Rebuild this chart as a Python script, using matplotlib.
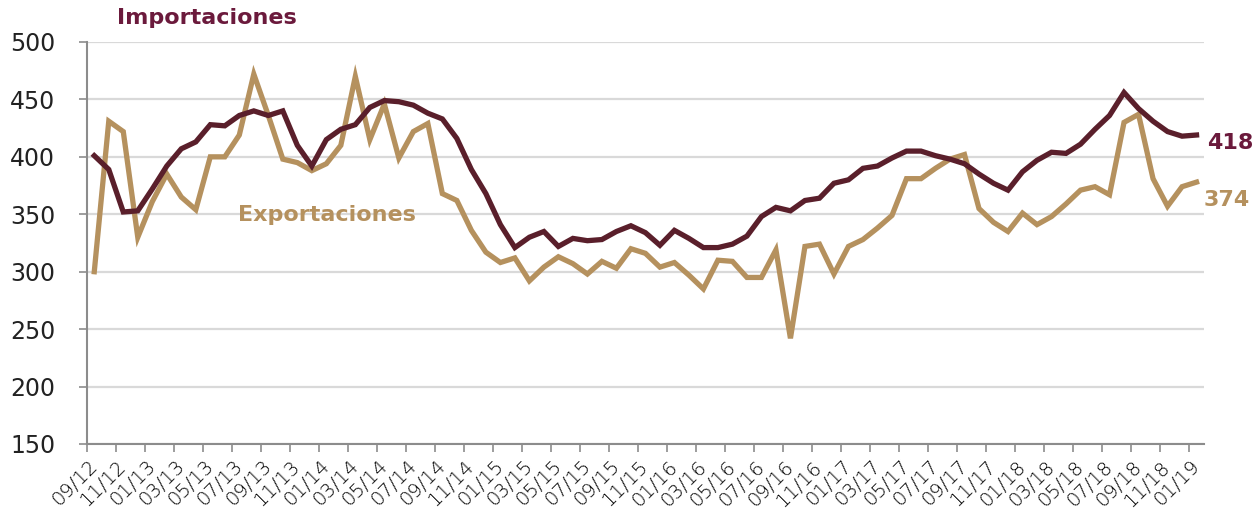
import numpy as np
import pandas as pd
import matplotlib
matplotlib.use("Agg")
import matplotlib.pyplot as plt

# meses sep-2012 .. ene-2019
fechas = pd.date_range("2012-09-01", "2019-01-01", freq="MS")
etiquetas = [f.strftime("%m/%y") for f in fechas]

importaciones = [401, 389, 352, 353, 372, 392, 407, 413, 428, 427,
                 436, 440, 436, 440, 410, 392, 415, 424, 428, 443,
                 449, 448, 445, 438, 433, 416, 389, 368, 341, 321,
                 330, 335, 322, 329, 327, 328, 335, 340, 334, 323,
                 336, 329, 321, 321, 324, 331, 348, 356, 353, 362,
                 364, 377, 380, 390, 392, 399, 405, 405, 401, 398,
                 394, 385, 377, 371, 387, 397, 404, 403, 411, 424,
                 436, 456, 442, 431, 422, 418, 419]

exportaciones = [300, 431, 422, 330, 361, 385, 365, 354, 400, 400,
                 419, 472, 436, 398, 395, 388, 394, 410, 470, 415,
                 446, 399, 422, 429, 368, 362, 336, 317, 308, 312,
                 292, 304, 313, 307, 298, 309, 303, 320, 316, 304,
                 308, 297, 285, 310, 309, 295, 295, 319, 242, 322,
                 324, 298, 322, 328, 338, 349, 381, 381, 390, 398,
                 402, 355, 343, 335, 351, 341, 348, 359, 371, 374,
                 367, 430, 437, 381, 357, 374, 378]

ultimo_imp = "418"
ultimo_exp = "374"

c_imp = "#5a1f2b"
c_imp_txt = "#6b1a3c"
c_exp = "#b5915e"
gris = "#8c8c8c"

plt.rcParams["font.family"] = ["DejaVu Sans"]

fig = plt.figure(figsize=(12.52, 5.17), dpi=100)
ax = fig.add_axes([0.0695, 0.1412, 0.892, 0.7776])

x = np.arange(len(fechas))
ax.plot(x, exportaciones, color=c_exp, lw=3.8, solid_joinstyle="miter", zorder=3)
ax.plot(x, importaciones, color=c_imp, lw=3.8, solid_joinstyle="miter", zorder=4)

ax.set_xlim(-0.5, len(fechas) - 0.5)
ax.set_ylim(150, 500)
ax.set_yticks(np.arange(150, 501, 50))
ax.grid(axis="y", color="#d9d9d9", lw=1.6)
ax.set_axisbelow(True)

ax.set_xticks(x[::2])
ax.set_xticklabels(etiquetas[::2], rotation=45, ha="right", va="center",
                   rotation_mode="anchor", fontsize=14, fontweight="light",
                   color="#000000")
ax.tick_params(axis="x", which="major", length=0, pad=14)
ax.set_xticks(np.arange(-0.5, len(fechas), 2), minor=True)
ax.tick_params(axis="x", which="minor", length=6, color=gris, width=1.2)
ax.tick_params(axis="y", length=6, color=gris, width=1.2, labelsize=17,
               pad=17, labelcolor="#222222")

for s in ["top", "right"]:
    ax.spines[s].set_visible(False)
for s in ["left", "bottom"]:
    ax.spines[s].set_color(gris)
    ax.spines[s].set_linewidth(1.5)

ax.text(1.6, 521, "Importaciones", color=c_imp_txt, fontsize=16,
        fontweight="bold", va="center", clip_on=False)
ax.text(9.9, 349, "Exportaciones", color=c_exp, fontsize=16,
        fontweight="bold", va="center")
ax.text(76.7, 412, ultimo_imp, color=c_imp_txt, fontsize=16,
        fontweight="bold", va="center", clip_on=False)
ax.text(76.5, 362, ultimo_exp, color=c_exp, fontsize=16,
        fontweight="bold", va="center", clip_on=False)

fig.savefig("out.png", dpi=100)
